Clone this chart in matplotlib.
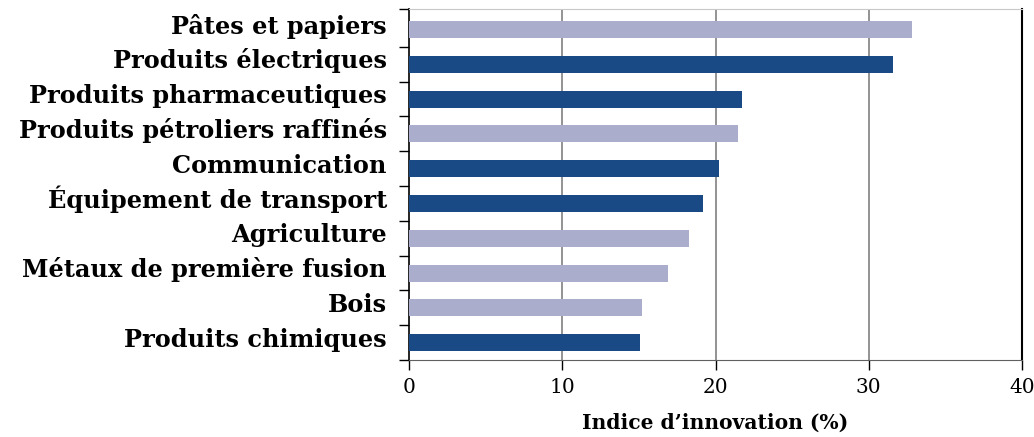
import numpy as np
import matplotlib.pyplot as plt

categories = ["Pâtes et papiers", "Produits électriques", "Produits pharmaceutiques",
              "Produits pétroliers raffinés", "Communication", "Équipement de transport",
              "Agriculture", "Métaux de première fusion", "Bois", "Produits chimiques"]
values = [32.8, 31.6, 21.7, 21.5, 20.2, 19.2, 18.3, 16.9, 15.2, 15.1]
dark = [False, True, True, False, True, True, False, False, False, True]

light_col = "#aaaecc"
dark_col = "#1a4a85"
colors = [dark_col if d else light_col for d in dark]

plt.rcParams['font.family'] = ['DejaVu Serif']

fig = plt.figure(figsize=(10.34, 4.37), dpi=100)
ax = fig.add_axes([409/1034, 1 - 360/437, (1022-409)/1034, (360-9)/437])

y = np.arange(len(categories))
ax.barh(y, values, height=0.49, color=colors, zorder=3)
ax.set_ylim(len(categories) - 0.5, -0.59)
ax.set_xlim(0, 40)

ax.set_xticks([0, 10, 20, 30, 40])
ax.tick_params(axis='x', labelsize=14.5, length=7, width=1, pad=6)
ax.set_yticks([-0.59] + list(y + 0.5))
ax.set_yticklabels([])
ax.set_yticks(y + 0.12, minor=True)
ax.set_yticklabels(categories, minor=True, fontsize=17.3, fontweight='bold', va='baseline')
ax.tick_params(axis='y', which='major', length=7, width=1)
ax.tick_params(axis='y', which='minor', length=0, pad=16)

for xv in [10, 20, 30]:
    ax.axvline(xv, color='#808080', lw=1.2, zorder=1)

ax.spines['top'].set_color('#c8c8c8')
ax.spines['right'].set_color('black')
ax.spines['right'].set_linewidth(1.5)
ax.spines['left'].set_linewidth(1.2)
ax.spines['bottom'].set_color('#606060')

ax.set_xlabel("Indice d’innovation (%)", fontsize=14.6, fontweight='bold', labelpad=11)

plt.savefig("out.png", dpi=100)
